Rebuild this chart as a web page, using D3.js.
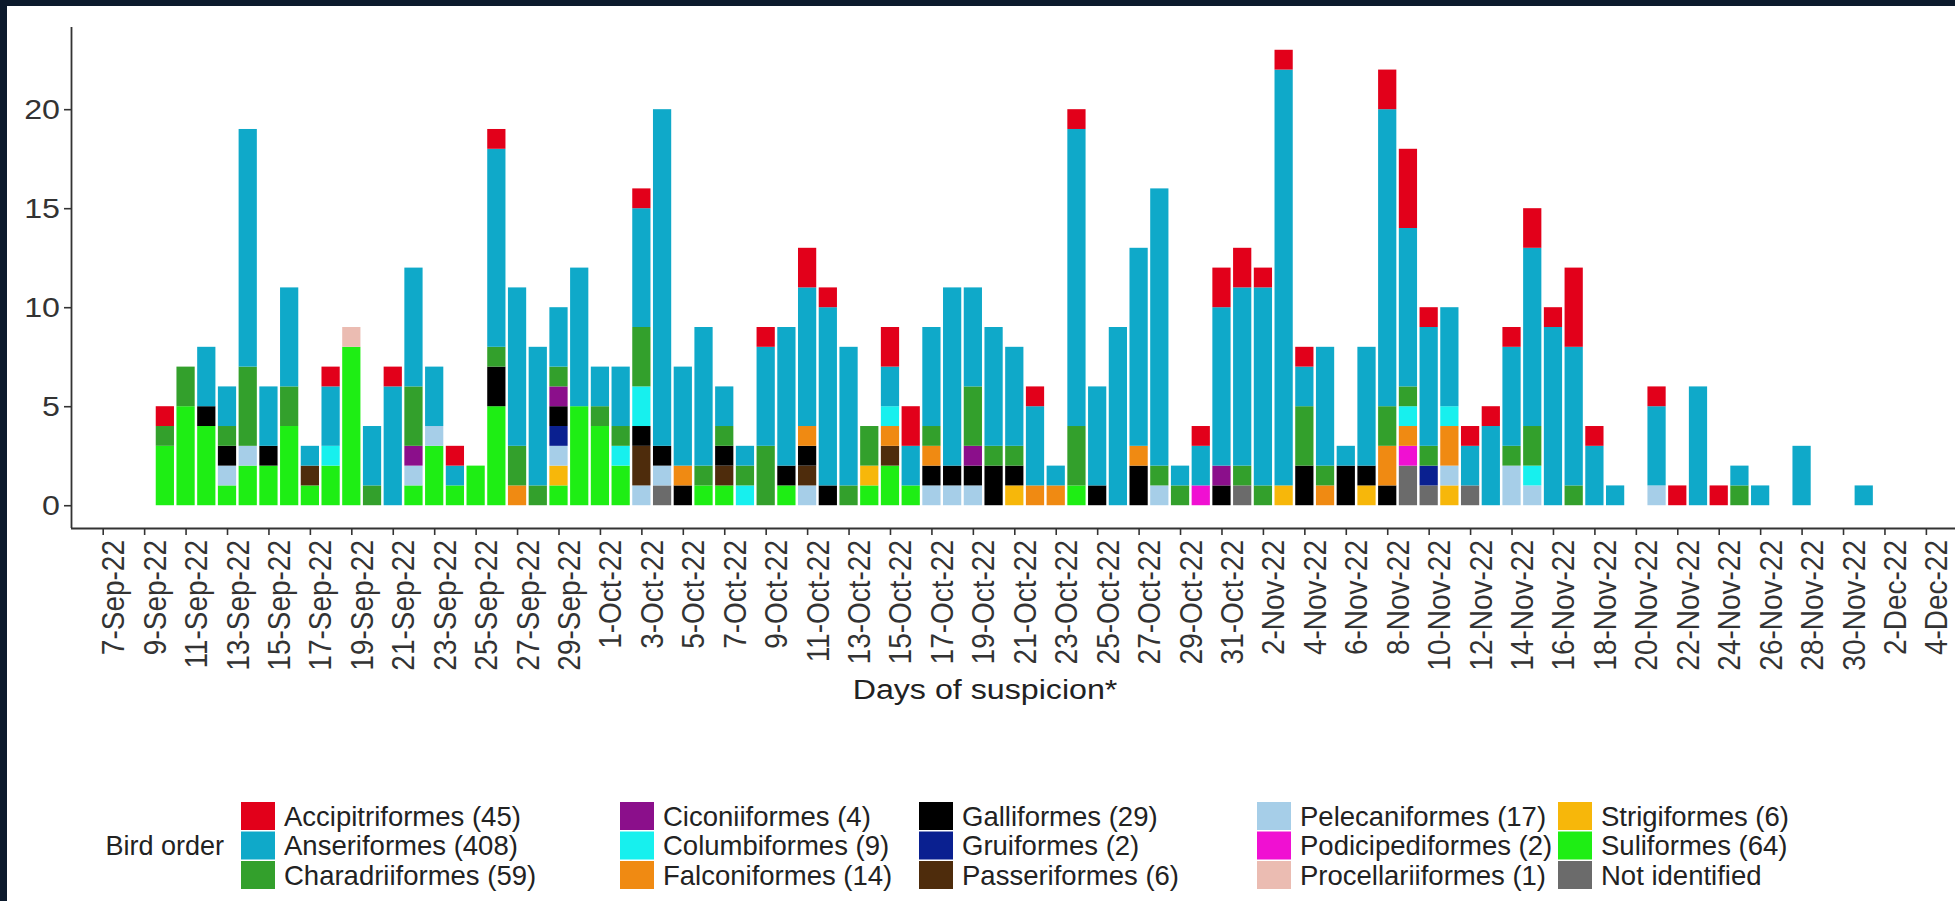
<!DOCTYPE html>
<html>
<head>
<meta charset="utf-8">
<script src="https://cdn.jsdelivr.net/npm/d3@7"></script>
<style>
  html, body { margin: 0; padding: 0; background: #0c1a2c; }
  svg { display: block; }
  text { font-family: "Liberation Sans", Arial, Helvetica, sans-serif; }
</style>
</head>
<body>
<svg id="chart" width="1955" height="901"></svg>
<script>
// Days with at least one suspected case (rows of 10)
const days = [
  "2022-09-10","2022-09-11","2022-09-12","2022-09-13","2022-09-14","2022-09-15","2022-09-16","2022-09-17","2022-09-18","2022-09-19",
  "2022-09-20","2022-09-21","2022-09-22","2022-09-23","2022-09-24","2022-09-25","2022-09-26","2022-09-27","2022-09-28","2022-09-29",
  "2022-09-30","2022-10-01","2022-10-02","2022-10-03","2022-10-04","2022-10-05","2022-10-06","2022-10-07","2022-10-08","2022-10-09",
  "2022-10-10","2022-10-11","2022-10-12","2022-10-13","2022-10-14","2022-10-15","2022-10-16","2022-10-17","2022-10-18","2022-10-19",
  "2022-10-20","2022-10-21","2022-10-22","2022-10-23","2022-10-24","2022-10-25","2022-10-26","2022-10-27","2022-10-28","2022-10-29",
  "2022-10-30","2022-10-31","2022-11-01","2022-11-02","2022-11-03","2022-11-04","2022-11-05","2022-11-06","2022-11-07","2022-11-08",
  "2022-11-09","2022-11-10","2022-11-11","2022-11-12","2022-11-13","2022-11-14","2022-11-15","2022-11-16","2022-11-17","2022-11-18",
  "2022-11-19","2022-11-21","2022-11-22","2022-11-23","2022-11-24","2022-11-25","2022-11-26","2022-11-28","2022-12-01"
];

// Number of suspected cases per bird order, aligned with `days`
const accipitriformes = [
  1,0,0,0,0,0,0,0,1,0,  0,1,0,0,1,0,1,0,0,0,  0,0,0,1,0,0,0,0,0,1,  0,2,1,0,0,2,2,0,0,0,
  0,0,1,0,1,0,0,0,0,0,  1,2,2,1,1,1,0,0,0,2,  4,1,0,1,1,1,2,1,4,1,  0,1,1,0,1,0,0,0,0
];
const anseriformes = [
  0,0,3,2,12,3,5,1,3,0,  3,6,6,3,1,0,10,8,7,3,  7,2,3,6,17,5,7,2,1,5,  7,7,9,7,0,2,2,5,9,5,
  6,5,4,1,15,5,9,10,14,1,  2,8,9,10,21,2,6,1,6,15,  8,6,5,2,4,5,9,9,7,3,  1,4,0,6,0,1,1,3,1
];
const charadriiformes = [
  1,2,0,1,4,0,2,0,0,0,  1,0,3,0,0,0,1,2,1,1,  0,1,1,3,0,0,1,1,1,3,  0,0,0,1,2,0,0,1,0,3,
  1,1,0,0,3,0,0,0,1,1,  0,0,1,1,0,3,1,0,0,2,  1,1,0,0,0,1,2,0,1,0,  0,0,0,0,0,1,0,0,0
];
const ciconiiformes = [
  0,0,0,0,0,0,0,0,0,0,  0,0,1,0,0,0,0,0,0,1,  0,0,0,0,0,0,0,0,0,0,  0,0,0,0,0,0,0,0,0,1,
  0,0,0,0,0,0,0,0,0,0,  0,1,0,0,0,0,0,0,0,0,  0,0,0,0,0,0,0,0,0,0,  0,0,0,0,0,0,0,0,0
];
const columbiformes = [
  0,0,0,0,0,0,0,0,1,0,  0,0,0,0,0,0,0,0,0,0,  0,0,1,2,0,0,0,0,1,0,  0,0,0,0,0,1,0,0,0,0,
  0,0,0,0,0,0,0,0,0,0,  0,0,0,0,0,0,0,0,0,0,  1,0,1,0,0,0,1,0,0,0,  0,0,0,0,0,0,0,0,0
];
const falconiformes = [
  0,0,0,0,0,0,0,0,0,0,  0,0,0,0,0,0,0,1,0,0,  0,0,0,0,0,1,0,0,0,0,  0,1,0,0,0,1,0,1,0,0,
  0,0,1,1,0,0,0,1,0,0,  0,0,0,0,0,0,1,0,0,2,  1,0,2,0,0,0,0,0,0,0,  0,0,0,0,0,0,0,0,0
];
const galliformes = [
  0,0,1,1,0,1,0,0,0,0,  0,0,0,0,0,0,2,0,0,1,  0,0,0,1,1,1,0,1,0,0,  1,1,1,0,0,0,0,1,1,1,
  2,1,0,0,0,1,0,2,0,0,  0,1,0,0,0,2,0,2,1,1,  0,0,0,0,0,0,0,0,0,0,  0,0,0,0,0,0,0,0,0
];
const gruiformes = [
  0,0,0,0,0,0,0,0,0,0,  0,0,0,0,0,0,0,0,0,1,  0,0,0,0,0,0,0,0,0,0,  0,0,0,0,0,0,0,0,0,0,
  0,0,0,0,0,0,0,0,0,0,  0,0,0,0,0,0,0,0,0,0,  0,1,0,0,0,0,0,0,0,0,  0,0,0,0,0,0,0,0,0
];
const passeriformes = [
  0,0,0,0,0,0,0,1,0,0,  0,0,0,0,0,0,0,0,0,0,  0,0,0,2,0,0,0,1,0,0,  0,1,0,0,0,1,0,0,0,0,
  0,0,0,0,0,0,0,0,0,0,  0,0,0,0,0,0,0,0,0,0,  0,0,0,0,0,0,0,0,0,0,  0,0,0,0,0,0,0,0,0
];
const pelecaniformes = [
  0,0,0,1,1,0,0,0,0,0,  0,0,1,1,0,0,0,0,0,1,  0,0,0,1,1,0,0,0,0,0,  0,1,0,0,0,0,0,1,1,1,
  0,0,0,0,0,0,0,0,1,0,  0,0,0,0,0,0,0,0,0,0,  0,0,1,0,0,2,1,0,0,0,  0,1,0,0,0,0,0,0,0
];
const podicipediformes = [
  0,0,0,0,0,0,0,0,0,0,  0,0,0,0,0,0,0,0,0,0,  0,0,0,0,0,0,0,0,0,0,  0,0,0,0,0,0,0,0,0,0,
  0,0,0,0,0,0,0,0,0,0,  1,0,0,0,0,0,0,0,0,0,  1,0,0,0,0,0,0,0,0,0,  0,0,0,0,0,0,0,0,0
];
const procellariiformes = [
  0,0,0,0,0,0,0,0,0,1,  0,0,0,0,0,0,0,0,0,0,  0,0,0,0,0,0,0,0,0,0,  0,0,0,0,0,0,0,0,0,0,
  0,0,0,0,0,0,0,0,0,0,  0,0,0,0,0,0,0,0,0,0,  0,0,0,0,0,0,0,0,0,0,  0,0,0,0,0,0,0,0,0
];
const strigiformes = [
  0,0,0,0,0,0,0,0,0,0,  0,0,0,0,0,0,0,0,0,1,  0,0,0,0,0,0,0,0,0,0,  0,0,0,0,1,0,0,0,0,0,
  0,1,0,0,0,0,0,0,0,0,  0,0,0,0,1,0,0,0,1,0,  0,0,1,0,0,0,0,0,0,0,  0,0,0,0,0,0,0,0,0
];
const suliformes = [
  3,5,4,1,2,2,4,1,2,8,  0,0,1,3,1,2,5,0,0,1,  5,4,2,0,0,0,1,1,0,0,  1,0,0,0,1,2,1,0,0,0,
  0,0,0,0,1,0,0,0,0,0,  0,0,0,0,0,0,0,0,0,0,  0,0,0,0,0,0,0,0,0,0,  0,0,0,0,0,0,0,0,0
];
const notIdentified = [
  0,0,0,0,0,0,0,0,0,0,  0,0,0,0,0,0,0,0,0,0,  0,0,0,0,1,0,0,0,0,0,  0,0,0,0,0,0,0,0,0,0,
  0,0,0,0,0,0,0,0,0,0,  0,0,1,0,0,0,0,0,0,0,  2,1,0,1,0,0,0,0,0,0,  0,0,0,0,0,0,0,0,0
];

// Bird orders in legend order (first one is drawn on top of each bar)
const orders = [
  "Accipitriformes","Anseriformes","Charadriiformes","Ciconiiformes","Columbiformes",
  "Falconiformes","Galliformes","Gruiformes","Passeriformes","Pelecaniformes",
  "Podicipediformes","Procellariiformes","Strigiformes","Suliformes","Not identified"
];
const orderValues = [
  accipitriformes, anseriformes, charadriiformes, ciconiiformes, columbiformes,
  falconiformes, galliformes, gruiformes, passeriformes, pelecaniformes,
  podicipediformes, procellariiformes, strigiformes, suliformes, notIdentified
];
const legendLabels = [
  "Accipitriformes (45)","Anseriformes (408)","Charadriiformes (59)","Ciconiiformes (4)","Columbiformes (9)",
  "Falconiformes (14)","Galliformes (29)","Gruiformes (2)","Passeriformes (6)","Pelecaniformes (17)",
  "Podicipediformes (2)","Procellariiformes (1)","Strigiformes (6)","Suliformes (64)","Not identified"
];
const orderColors = [
  "#E2001A","#0FA9C9","#33A02C","#8B0F8B","#17F0EE",
  "#F08A12","#000000","#0A2090","#4E2C0C","#A6CEE8",
  "#F010D2","#EBBCB2","#F7B70A","#1EEE14","#6B6B6B"
];

const tickLabels = [
  "7-Sep-22","9-Sep-22","11-Sep-22","13-Sep-22","15-Sep-22","17-Sep-22","19-Sep-22","21-Sep-22",
  "23-Sep-22","25-Sep-22","27-Sep-22","29-Sep-22","1-Oct-22","3-Oct-22","5-Oct-22","7-Oct-22",
  "9-Oct-22","11-Oct-22","13-Oct-22","15-Oct-22","17-Oct-22","19-Oct-22","21-Oct-22","23-Oct-22",
  "25-Oct-22","27-Oct-22","29-Oct-22","31-Oct-22","2-Nov-22","4-Nov-22","6-Nov-22","8-Nov-22",
  "10-Nov-22","12-Nov-22","14-Nov-22","16-Nov-22","18-Nov-22","20-Nov-22","22-Nov-22","24-Nov-22",
  "26-Nov-22","28-Nov-22","30-Nov-22","2-Dec-22","4-Dec-22"
];
const yTicks = [0, 5, 10, 15, 20];

const xTitle = "Days of suspicion*";
const legendTitle = "Bird order";

// ---------------------------------------------------------------------------
const W = 1955, H = 901;
const DAY = 864e5;
const TEXT_STRETCH = 1.15;          // axis glyphs are drawn slightly wide
const parseDay = d3.utcParse("%Y-%m-%d");
const parseTick = d3.utcParse("%-d-%b-%y");

const rows = days.map((d, i) => {
  const r = { date: parseDay(d) };
  orders.forEach((o, k) => { r[o] = orderValues[k][i]; });
  return r;
});
const tickDates = tickLabels.map(parseTick);

const svg = d3.select("#chart");

// page and white figure area
svg.append("rect").attr("width", W).attr("height", H).attr("fill", "#0c1a2c");
svg.append("rect").attr("x", 7).attr("y", 6).attr("width", W - 7).attr("height", H - 6).attr("fill", "#ffffff");

const panel = { left: 71, right: 1958, top: 27, bottom: 528 };

const x = d3.scaleUtc()
  .domain([new Date(tickDates[0].getTime() - 1.53 * DAY),
           new Date(tickDates[tickDates.length - 1].getTime() + 1.55 * DAY)])
  .range([panel.left, panel.right]);

const y = d3.scaleLinear()
  .domain([-1.15, 24.15])
  .range([panel.bottom, panel.top]);

const barHalf = 0.44 * DAY;

// stacked bars: last legend entry at the bottom
const stack = d3.stack().keys(orders.slice().reverse());
const series = stack(rows);
const colorOf = d3.scaleOrdinal().domain(orders).range(orderColors);

svg.append("g")
  .selectAll("g.layer")
  .data(series)
  .join("g")
  .attr("class", "layer")
  .attr("fill", s => colorOf(s.key))
  .selectAll("rect")
  .data(s => s.filter(seg => seg[1] > seg[0]))
  .join("rect")
  .attr("x", seg => x(new Date(seg.data.date.getTime() - barHalf)))
  .attr("width", seg => x(new Date(seg.data.date.getTime() + barHalf)) - x(new Date(seg.data.date.getTime() - barHalf)))
  .attr("y", seg => y(seg[1]))
  .attr("height", seg => y(seg[0]) - y(seg[1]));

// axes
const axisColor = "#333333";
const yAxis = svg.append("g")
  .attr("transform", `translate(${panel.left},0)`)
  .call(d3.axisLeft(y).tickValues(yTicks).tickSize(7).tickPadding(5).tickSizeOuter(0));
yAxis.select(".domain").attr("stroke", axisColor).attr("stroke-width", 1.8)
  .attr("d", `M0.5,${panel.top}V${panel.bottom}`);
yAxis.selectAll(".tick line").attr("stroke", axisColor).attr("stroke-width", 1.6);
yAxis.selectAll(".tick text")
  .attr("font-size", 28).attr("fill", "#333")
  .attr("x", null).attr("dy", "0.34em")
  .attr("transform", `translate(-11,0) scale(${TEXT_STRETCH},1)`);

const xAxis = svg.append("g")
  .attr("transform", `translate(0,${panel.bottom})`)
  .call(d3.axisBottom(x).tickValues(tickDates).tickSize(7).tickSizeOuter(0)
        .tickFormat((d, i) => tickLabels[i]));
xAxis.select(".domain").attr("stroke", axisColor).attr("stroke-width", 1.8)
  .attr("d", `M${panel.left},0.5H${W}`);
xAxis.selectAll(".tick line").attr("stroke", axisColor).attr("stroke-width", 1.6);
xAxis.selectAll(".tick text")
  .attr("font-size", 28).attr("fill", "#333")
  .attr("text-anchor", "end")
  .attr("dy", null)
  .attr("y", 0)
  .attr("transform", `translate(21,12) scale(${TEXT_STRETCH},1) rotate(-90)`);

// axis title
svg.append("text")
  .attr("transform", `translate(985,699) scale(${TEXT_STRETCH},1)`)
  .attr("text-anchor", "middle")
  .attr("font-size", 28).attr("fill", "#222")
  .text(xTitle);

// legend: five columns of three entries
const legend = svg.append("g").attr("class", "legend");
const key = { w: 34, h: 28, pitch: 29.5, top: 802, gap: 9 };
const legendColumns = [241, 620, 919, 1257, 1558];

legend.append("text")
  .attr("x", legendColumns[0] - 17).attr("y", key.top + key.pitch + key.h / 2)
  .attr("dy", "0.35em").attr("text-anchor", "end")
  .attr("font-size", 27).attr("fill", "#222")
  .text(legendTitle);

legendColumns.forEach((colX, c) => {
  for (let r = 0; r < 3; r++) {
    const k = c * 3 + r;
    const top = key.top + r * key.pitch;
    legend.append("rect")
      .attr("x", colX).attr("y", top).attr("width", key.w).attr("height", key.h)
      .attr("fill", orderColors[k]);
    legend.append("text")
      .attr("x", colX + key.w + key.gap).attr("y", top + key.h / 2)
      .attr("dy", "0.36em").attr("font-size", 27.5).attr("fill", "#222")
      .text(legendLabels[k]);
  }
});
</script>
</body>
</html>
